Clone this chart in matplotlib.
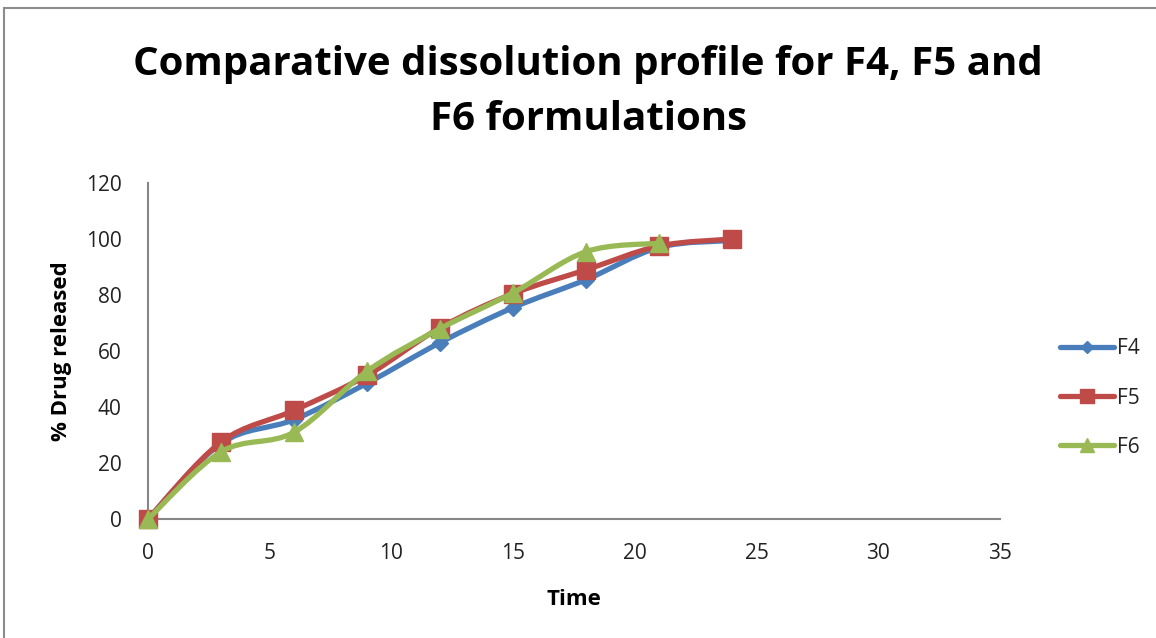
import matplotlib
matplotlib.use("Agg")
import matplotlib.pyplot as plt
from matplotlib.path import Path
from matplotlib.patches import PathPatch, Rectangle
from matplotlib.lines import Line2D

# Dissolution data (% drug released vs time)
time_f4 = [0, 3, 6, 9, 12, 15, 18, 21, 24]
f4 = [0, 27, 35.5, 48.5, 63, 75.5, 85.5, 97, 99.5]

time_f5 = [0, 3, 6, 9, 12, 15, 18, 21, 24]
f5 = [0, 27.5, 38.8, 51.3, 68.3, 80.5, 89, 97.5, 100]

time_f6 = [0, 3, 6, 9, 12, 15, 18, 21]
f6 = [0, 24, 31, 52.8, 68, 80.8, 95.5, 98.5]

series_names = ["F4", "F5", "F6"]
colors = ["#4A7EBB", "#BE4B48", "#98B954"]
markers = ["D", "s", "^"]
marker_sizes = [8, 13, 13]

title_text = "Comparative dissolution profile for F4, F5 and\nF6 formulations"
x_ticks = [0, 5, 10, 15, 20, 25, 30, 35]
y_ticks = [0, 20, 40, 60, 80, 100, 120]

FONT = "Open Sans"

fig = plt.figure(figsize=(11.56, 6.38), dpi=100)
fig.patch.set_facecolor("white")

# outer chart frame
fig.patches.append(Rectangle((4 / 1156, -0.05), 1.1, 1 - 8 / 638 + 0.05,
                             transform=fig.transFigure, fill=False,
                             edgecolor="#8c8c8c", linewidth=1.5))

ax = fig.add_axes([148 / 1156, 1 - 519 / 638, (1000 - 148) / 1156, (519 - 183) / 638])
ax.set_xlim(0, 35)
ax.set_ylim(0, 120)
ax.set_xticks(x_ticks)
ax.set_yticks(y_ticks)
ax.tick_params(length=0, labelsize=15, colors="#222222", pad=17)
ax.tick_params(axis="y", pad=19)
for lbl in ax.get_xticklabels() + ax.get_yticklabels():
    lbl.set_fontfamily(FONT)
for side in ["top", "right"]:
    ax.spines[side].set_visible(False)
for side in ["left", "bottom"]:
    ax.spines[side].set_color("#868686")
    ax.spines[side].set_linewidth(1.5)


def smooth_path(xs, ys, tension=1 / 6):
    """Cubic Bezier path through every point, Catmull-Rom style control points."""
    pts = list(zip(xs, ys))
    verts = [pts[0]]
    codes = [Path.MOVETO]
    n = len(pts)
    for i in range(n - 1):
        p0 = pts[i - 1] if i > 0 else pts[i]
        p1 = pts[i]
        p2 = pts[i + 1]
        p3 = pts[i + 2] if i + 2 < n else pts[i + 1]
        c1 = (p1[0] + (p2[0] - p0[0]) * tension, p1[1] + (p2[1] - p0[1]) * tension)
        c2 = (p2[0] - (p3[0] - p1[0]) * tension, p2[1] - (p3[1] - p1[1]) * tension)
        verts += [c1, c2, p2]
        codes += [Path.CURVE4] * 3
    return Path(verts, codes)


data = [(time_f4, f4), (time_f5, f5), (time_f6, f6)]
handles = []
for k, ((xs, ys), name, col, mk, ms) in enumerate(zip(data, series_names, colors, markers, marker_sizes)):
    patch = PathPatch(smooth_path(xs, ys), facecolor="none", edgecolor=col,
                      linewidth=3.8, capstyle="round", joinstyle="round",
                      transform=ax.transData, zorder=3 + 2 * k, clip_on=False)
    ax.add_patch(patch)
    ax.plot(xs, ys, linestyle="none", marker=mk, markersize=ms, color=col,
            markeredgecolor=col, zorder=4 + 2 * k, clip_on=False)
    handles.append(Line2D([0], [0], color=col, linewidth=3.8, marker=mk,
                          markersize=ms * 0.8, solid_capstyle="round"))

leg = fig.legend(handles, series_names, loc="center left",
                 bbox_to_anchor=(1041 / 1156, 1 - 398 / 638), frameon=False,
                 handlelength=2.6, handletextpad=0.15, labelspacing=1.35,
                 prop={"family": FONT, "size": 15})
for t in leg.get_texts():
    t.set_color("#222222")

ax.set_xlabel("Time", fontsize=16, fontweight="bold", fontfamily=FONT, labelpad=18)
ax.set_ylabel("% Drug released", fontsize=16, fontweight="bold", fontfamily=FONT, labelpad=10)

fig.text(588 / 1156, 1 - 92 / 638, title_text, ha="center", va="center",
         fontsize=29, fontweight="bold", fontfamily=FONT, linespacing=1.55)

fig.savefig("out.png", dpi=100)
